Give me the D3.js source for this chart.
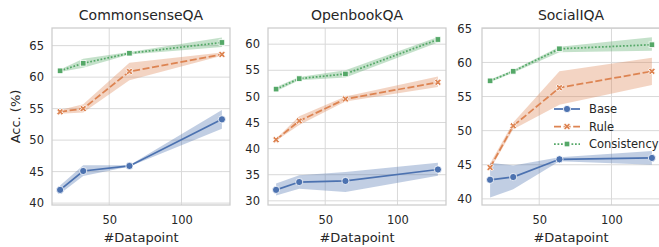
<!DOCTYPE html>
<html>
<head>
<meta charset="utf-8">
<script src="https://cdn.jsdelivr.net/npm/d3@7"></script>
<style>
  body { margin: 0; background: #fff; }
  svg text { font-family: "DejaVu Sans", sans-serif; fill: #262626; }
</style>
</head>
<body>
<svg id="chart" width="659" height="247"></svg>
<script>
// Number of training datapoints on the x axis.
var datapoints = [16, 32, 64, 128];

var seriesNames = ['Base', 'Rule', 'Consistency'];
var panelTitles = ['CommonsenseQA', 'OpenbookQA', 'SocialIQA'];
var xTicks = [50, 100];
var csqaTicks = [40, 45, 50, 55, 60, 65];
var obqaTicks = [30, 35, 40, 45, 50, 55, 60];
var siqaTicks = [40, 45, 50, 55, 60, 65];

// CommonsenseQA: mean accuracy and the band (low, high) around it.
var csqaBase = [42.1, 45.1, 45.9, 53.3];
var csqaBaseBand = [[41.5, 42.8], [44.3, 46.0], [45.8, 46.0], [51.8, 54.8]];
var csqaRule = [54.5, 55.0, 60.9, 63.6];
var csqaRuleBand = [[54.2, 54.8], [54.4, 55.7], [59.5, 62.3], [63.4, 63.9]];
var csqaCons = [61.0, 62.2, 63.8, 65.5];
var csqaConsBand = [[60.8, 61.2], [61.5, 62.9], [63.6, 64.0], [64.8, 66.3]];

// OpenbookQA.
var obqaBase = [32.1, 33.6, 33.8, 36.0];
var obqaBaseBand = [[31.0, 33.3], [32.3, 34.9], [31.7, 35.5], [34.8, 37.3]];
var obqaRule = [41.7, 45.3, 49.5, 52.7];
var obqaRuleBand = [[41.5, 41.9], [44.5, 46.2], [49.0, 50.0], [51.8, 53.8]];
var obqaCons = [51.4, 53.4, 54.3, 60.9];
var obqaConsBand = [[51.0, 51.8], [53.1, 53.7], [53.6, 55.0], [60.3, 61.4]];

// SocialIQA.
var siqaBase = [42.8, 43.2, 45.8, 46.0];
var siqaBaseBand = [[40.2, 45.3], [41.4, 44.9], [45.5, 46.1], [45.0, 47.0]];
var siqaRule = [44.6, 50.7, 56.3, 58.7];
var siqaRuleBand = [[44.3, 45.2], [50.2, 51.2], [53.8, 58.7], [56.7, 60.7]];
var siqaCons = [57.3, 58.7, 62.0, 62.6];
var siqaConsBand = [[57.1, 57.5], [58.5, 58.9], [61.5, 62.3], [61.7, 63.7]];

// Seaborn "deep" colours, one per series.
var colors = ['#4c72b0', '#dd8452', '#55a868'];
var dashes = ['none', '7,2.6', '1.75,1.75'];
var markers = ['circle', 'x', 'square'];

var panels = [
  { title: panelTitles[0], ticks: csqaTicks, domain: [39.7, 67.8],
    means: [csqaBase, csqaRule, csqaCons], bands: [csqaBaseBand, csqaRuleBand, csqaConsBand] },
  { title: panelTitles[1], ticks: obqaTicks, domain: [29.2, 63.1],
    means: [obqaBase, obqaRule, obqaCons], bands: [obqaBaseBand, obqaRuleBand, obqaConsBand] },
  { title: panelTitles[2], ticks: siqaTicks, domain: [39.1, 65.05],
    means: [siqaBase, siqaRule, siqaCons], bands: [siqaBaseBand, siqaRuleBand, siqaConsBand] }
];

var panelLeft = [52, 268, 482];
var panelWidth = 178;
var plotTop = 28, plotBottom = 205;
var gridColor = '#d9d9d9';

var svg = d3.select('#chart');

// Draw a marker shape centred at 0,0.
function drawMarker(g, kind, color) {
  if (kind === 'circle') {
    g.append('circle').attr('r', 3.6)
      .attr('fill', color).attr('stroke', '#fff').attr('stroke-width', 0.8);
  } else if (kind === 'square') {
    g.append('rect').attr('x', -2.8).attr('y', -2.8).attr('width', 5.6).attr('height', 5.6)
      .attr('fill', color).attr('stroke', '#fff').attr('stroke-width', 0.8);
  } else {
    // Filled plus rotated 45 degrees, like matplotlib's "X".
    var s = 7.2, a = s / 2, b = s / 6;
    var pts = [[-b, -a], [b, -a], [b, -b], [a, -b], [a, b], [b, b],
               [b, a], [-b, a], [-b, b], [-a, b], [-a, -b], [-b, -b]];
    g.append('path')
      .attr('d', 'M' + pts.map(function(p) { return p.join(','); }).join('L') + 'Z')
      .attr('transform', 'rotate(45)')
      .attr('fill', color).attr('stroke', '#fff').attr('stroke-width', 0.8);
  }
}

panels.forEach(function(panel, pi) {
  var left = panelLeft[pi];
  var x = d3.scaleLinear().domain([10.4, 133.6]).range([left, left + panelWidth]);
  var y = d3.scaleLinear().domain(panel.domain).range([plotBottom, plotTop]);
  var g = svg.append('g');

  // Grid lines.
  g.selectAll('.gx').data(xTicks).enter().append('line')
    .attr('x1', function(d) { return x(d); }).attr('x2', function(d) { return x(d); })
    .attr('y1', plotTop).attr('y2', plotBottom)
    .attr('stroke', gridColor).attr('stroke-width', 1);
  g.selectAll('.gy').data(panel.ticks).enter().append('line')
    .attr('x1', left).attr('x2', left + panelWidth)
    .attr('y1', function(d) { return y(d); }).attr('y2', function(d) { return y(d); })
    .attr('stroke', gridColor).attr('stroke-width', 1);

  // Axes with no tick marks, only labels.
  var xAxis = g.append('g').attr('transform', 'translate(0,' + plotBottom + ')')
    .call(d3.axisBottom(x).tickValues(xTicks).tickSize(0).tickPadding(11));
  var yAxis = g.append('g').attr('transform', 'translate(' + left + ',0)')
    .call(d3.axisLeft(y).tickValues(panel.ticks).tickSize(0).tickPadding(pi === 2 ? 10 : 8));
  [xAxis, yAxis].forEach(function(ax) {
    ax.select('.domain').remove();
    ax.selectAll('text').style('font-size', '11.5px').attr('fill', '#262626')
      .style('font-family', '"DejaVu Sans", sans-serif');
  });

  // Frame.
  g.append('rect').attr('x', left).attr('y', plotTop)
    .attr('width', panelWidth).attr('height', plotBottom - plotTop)
    .attr('fill', 'none').attr('stroke', '#cccccc').attr('stroke-width', 1.25);

  // Bands, then lines, then markers.
  panel.means.forEach(function(mean, si) {
    var band = panel.bands[si];
    var area = d3.area()
      .x(function(d, i) { return x(datapoints[i]); })
      .y0(function(d) { return y(d[0]); })
      .y1(function(d) { return y(d[1]); });
    g.append('path').attr('d', area(band))
      .attr('fill', colors[si]).attr('fill-opacity', 0.35).attr('stroke', 'none');
  });
  panel.means.forEach(function(mean, si) {
    var line = d3.line()
      .x(function(d, i) { return x(datapoints[i]); })
      .y(function(d) { return y(d); });
    g.append('path').attr('d', line(mean))
      .attr('fill', 'none').attr('stroke', colors[si]).attr('stroke-width', 1.75)
      .attr('stroke-dasharray', dashes[si]);
    mean.forEach(function(v, i) {
      var m = g.append('g').attr('transform', 'translate(' + x(datapoints[i]) + ',' + y(v) + ')');
      drawMarker(m, markers[si], colors[si]);
    });
  });

  // Title and axis labels.
  g.append('text').attr('x', left + panelWidth / 2).attr('y', 20)
    .attr('text-anchor', 'middle').style('font-size', '14px').text(panel.title);
  g.append('text').attr('x', left + panelWidth / 2).attr('y', 242)
    .attr('text-anchor', 'middle').style('font-size', '13px').text('#Datapoint');
  if (pi === 0) {
    g.append('text').attr('transform', 'translate(20,' + (plotTop + plotBottom) / 2 + ') rotate(-90)')
      .attr('text-anchor', 'middle').style('font-size', '13px').text('Acc. (%)');
  }
});

// Legend inside the last panel.
var legend = svg.append('g');
seriesNames.forEach(function(name, si) {
  var ly = 109 + si * 17.5;
  legend.append('line').attr('x1', 554).attr('x2', 580).attr('y1', ly).attr('y2', ly)
    .attr('stroke', colors[si]).attr('stroke-width', 1.75).attr('stroke-dasharray', dashes[si]);
  drawMarker(legend.append('g').attr('transform', 'translate(567,' + ly + ')'), markers[si], colors[si]);
  legend.append('text').attr('x', 589).attr('y', ly).attr('dy', '0.35em')
    .style('font-size', '11.5px').text(name);
});
</script>
</body>
</html>
